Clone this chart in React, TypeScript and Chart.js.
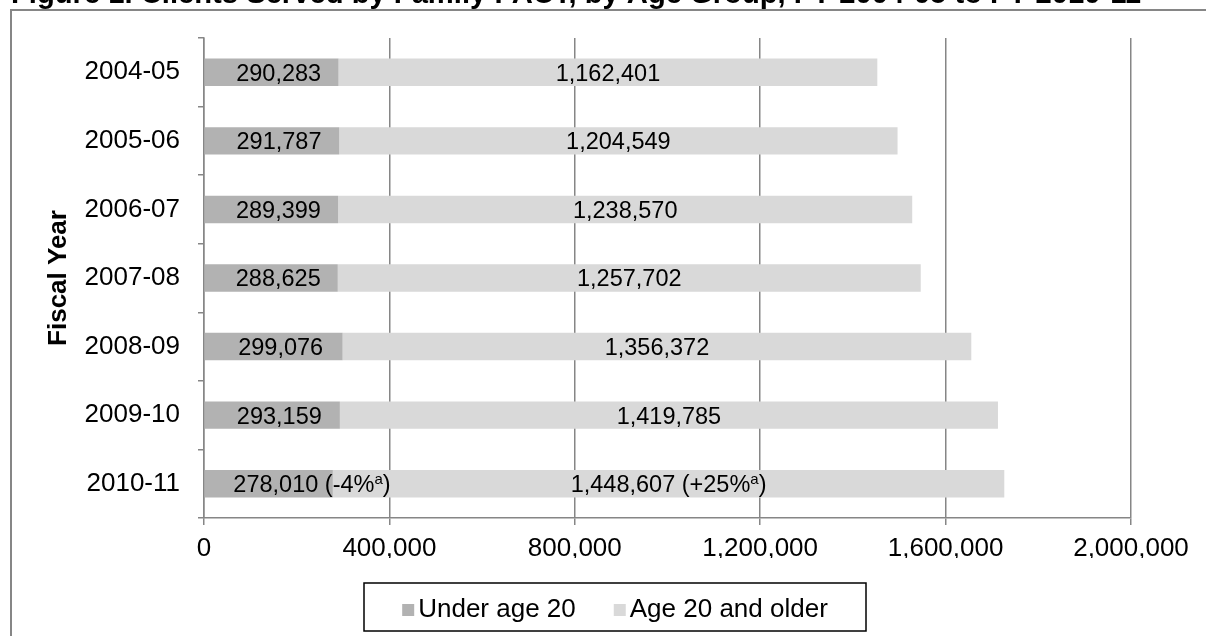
import React, { useEffect, useRef } from 'react';
import { Chart, registerables } from 'chart.js';

Chart.register(...registerables);

// ---- data ----
const fiscalYears = ['2004-05', '2005-06', '2006-07', '2007-08', '2008-09', '2009-10', '2010-11'];
const underAge20 = [290283, 291787, 289399, 288625, 299076, 293159, 278010];
const age20AndOlder = [1162401, 1204549, 1238570, 1257702, 1356372, 1419785, 1448607];
// change since FY 2004-05, printed after the last year's counts with footnote "a"
const underAge20Change = ['', '', '', '', '', '', '-4%'];
const age20AndOlderChange = ['', '', '', '', '', '', '+25%'];
const seriesNames = ['Under age 20', 'Age 20 and older'];
const xTickValues = [0, 400000, 800000, 1200000, 1600000, 2000000];
const footnoteMark = 'a';
const titleText = 'Figure 1. Clients Served by Family PACT, by Age Group, FY 2004-05 to FY 2010-11';
const axisTitle = 'Fiscal Year';

// ---- styles ----
const FONT = "'Liberation Sans', Arial, Helvetica, sans-serif";
const DARK = '#b2b2b2';
const LIGHT = '#d9d9d9';
const GRID = '#868686';
const W = 1206;
const H = 636;

const withCommas = (v: number) => String(Math.round(v)).replace(/\B(?=(\d{3})+(?!\d))/g, ',');

type Part = { text: string; sup?: boolean };

const LABEL_SIZE = 23.5;
const SUP_SIZE = 15;

function partWidth(ctx: CanvasRenderingContext2D, p: Part) {
  ctx.font = `${p.sup ? SUP_SIZE : LABEL_SIZE}px ${FONT}`;
  return ctx.measureText(p.text).width;
}

// page frame: figure caption and the box around the chart
const framePlugin = {
  id: 'frame',
  beforeDraw(chart: any) {
    const ctx: CanvasRenderingContext2D = chart.ctx;
    ctx.save();
    ctx.fillStyle = '#fff';
    ctx.fillRect(0, 0, chart.width, chart.height);
    ctx.fillStyle = '#000';
    ctx.font = `bold 29.2px ${FONT}`;
    ctx.textAlign = 'left';
    ctx.textBaseline = 'alphabetic';
    ctx.fillText(titleText, 11, 3);
    ctx.strokeStyle = GRID;
    ctx.lineWidth = 2;
    ctx.beginPath();
    ctx.moveTo(11, chart.height + 2);
    ctx.lineTo(11, 10);
    ctx.lineTo(chart.width + 2, 10);
    ctx.stroke();
    ctx.restore();
  },
};

// value labels inside the stacked segments
const labelShift = [7, 0];
const centerWholeLabel = [false, true];
const changeSeries = [underAge20Change, age20AndOlderChange];

const valueLabelPlugin = {
  id: 'valueLabels',
  afterDatasetsDraw(chart: any) {
    const ctx: CanvasRenderingContext2D = chart.ctx;
    ctx.save();
    ctx.fillStyle = '#000';
    ctx.textAlign = 'left';
    ctx.textBaseline = 'alphabetic';
    chart.data.datasets.forEach((ds: any, di: number) => {
      const meta = chart.getDatasetMeta(di);
      meta.data.forEach((bar: any, i: number) => {
        const { x, y, base } = bar.getProps(['x', 'y', 'base'], true);
        const mid = (x + base) / 2 + labelShift[di];
        const change = changeSeries[di][i];
        const parts: Part[] = [{ text: withCommas(ds.data[i]) }];
        if (change) {
          parts.push({ text: ` (${change}` }, { text: footnoteMark, sup: true }, { text: ')' });
        }
        const widths = parts.map((p) => partWidth(ctx, p));
        const total = widths.reduce((a, b) => a + b, 0);
        let cx = centerWholeLabel[di] ? mid - total / 2 : mid - widths[0] / 2;
        const baseline = y + LABEL_SIZE * 0.358;
        parts.forEach((p, k) => {
          ctx.font = `${p.sup ? SUP_SIZE : LABEL_SIZE}px ${FONT}`;
          ctx.fillText(p.text, cx, p.sup ? baseline - 8 : baseline);
          cx += widths[k];
        });
      });
    });
    ctx.restore();
  },
};

// boxed legend under the axis
const legendPlugin = {
  id: 'boxedLegend',
  afterDraw(chart: any) {
    const ctx: CanvasRenderingContext2D = chart.ctx;
    ctx.save();
    const size = 26;
    ctx.font = `${size}px ${FONT}`;
    const items = chart.data.datasets.map((ds: any) => ({
      text: ds.label as string,
      color: ds.backgroundColor as string,
      w: ctx.measureText(ds.label).width,
    }));
    const sw = 12;
    const gap = 4;
    const spacing = 38;
    const contentW =
      items.reduce((a: number, it: any) => a + sw + gap + it.w, 0) + spacing * (items.length - 1);
    const boxW = 502;
    const boxH = 48;
    const cx = chart.width / 2 + 12;
    const cy = 607;
    ctx.strokeStyle = '#000';
    ctx.lineWidth = 1.5;
    ctx.strokeRect(cx - boxW / 2, cy - boxH / 2, boxW, boxH);
    let x = cx - contentW / 2;
    const baseline = 617;
    items.forEach((it: any) => {
      ctx.fillStyle = it.color;
      ctx.fillRect(x, 604, sw, sw);
      ctx.fillStyle = '#000';
      ctx.textAlign = 'left';
      ctx.textBaseline = 'alphabetic';
      ctx.fillText(it.text, x + sw + gap, baseline);
      x += sw + gap + it.w + spacing;
    });
    ctx.restore();
  },
};

export default function App() {
  const canvasRef = useRef<HTMLCanvasElement | null>(null);

  useEffect(() => {
    const canvas = canvasRef.current;
    if (!canvas) return;
    const chart = new Chart(canvas, {
      type: 'bar',
      data: {
        labels: fiscalYears,
        datasets: [
          {
            label: seriesNames[0],
            data: underAge20,
            backgroundColor: DARK,
            borderWidth: 0,
            barPercentage: 0.4,
            categoryPercentage: 1,
          },
          {
            label: seriesNames[1],
            data: age20AndOlder,
            backgroundColor: LIGHT,
            borderWidth: 0,
            barPercentage: 0.4,
            categoryPercentage: 1,
          },
        ],
      },
      options: {
        animation: false,
        responsive: false,
        devicePixelRatio: 1,
        indexAxis: 'y',
        layout: { padding: { left: 20, right: 75, top: 38, bottom: 78 } },
        plugins: {
          legend: { display: false },
          title: { display: false },
          tooltip: { enabled: false },
        },
        scales: {
          x: {
            stacked: true,
            min: xTickValues[0],
            max: xTickValues[xTickValues.length - 1],
            ticks: {
              stepSize: xTickValues[1] - xTickValues[0],
              color: '#000',
              font: { family: FONT, size: 26 },
              padding: 8,
              maxRotation: 0,
              autoSkip: false,
              callback: (v: any) => withCommas(Number(v)),
            },
            grid: { color: GRID, lineWidth: 1.5, tickLength: 7, drawTicks: true },
            border: { color: GRID, width: 1.5 },
            afterFit: (s: any) => {
              s.height = 40;
            },
          },
          y: {
            stacked: true,
            ticks: { color: '#000', font: { family: FONT, size: 26 }, padding: 18 },
            grid: {
              display: true,
              drawOnChartArea: false,
              offset: true,
              tickLength: 6,
              color: GRID,
              lineWidth: 1.5,
            },
            border: { color: GRID, width: 1.5 },
            title: {
              display: true,
              text: axisTitle,
              color: '#000',
              font: { family: FONT, size: 26, weight: 'bold' },
              padding: { top: 23, bottom: 0 },
            },
            afterFit: (s: any) => {
              s.width = 184;
            },
          },
        },
      } as any,
      plugins: [framePlugin, valueLabelPlugin, legendPlugin],
    });
    return () => chart.destroy();
  }, []);

  return (
    <canvas
      ref={canvasRef}
      width={W}
      height={H}
      style={{ position: 'fixed', left: 0, top: 0, width: W, height: H, display: 'block' }}
    />
  );
}
